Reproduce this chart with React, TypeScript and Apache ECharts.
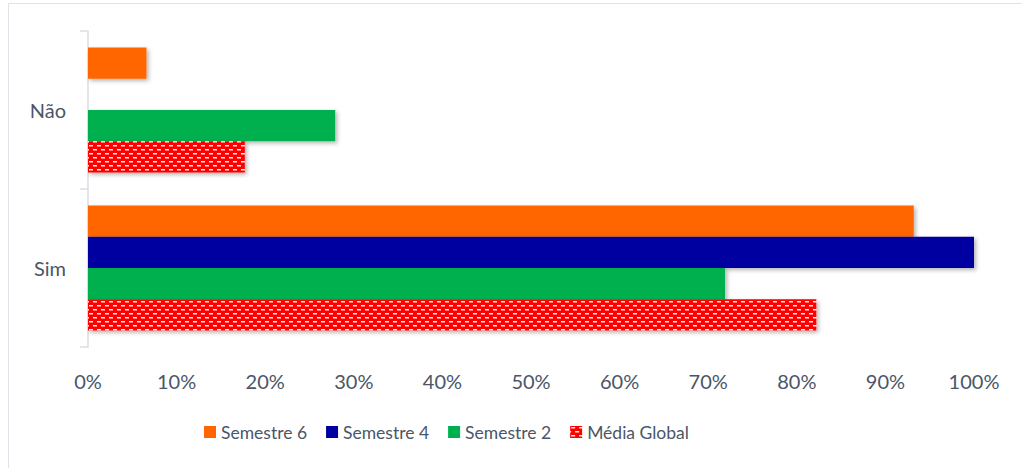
import React, { useEffect, useRef } from "react";
import * as echarts from "echarts";

const categories = ["Sim", "Não"];
const seriesNames = ["Semestre 6", "Semestre 4", "Semestre 2", "Média Global"];
const semestre6 = [93.2, 6.6];
const semestre4 = [100, 0];
const semestre2 = [71.9, 27.9];
const mediaGlobal = [82.2, 17.7];
const xTicks = [0, 10, 20, 30, 40, 50, 60, 70, 80, 90, 100];

function makePattern(): HTMLCanvasElement {
  const c = document.createElement("canvas");
  c.width = 8;
  c.height = 8;
  const ctx = c.getContext("2d")!;
  ctx.fillStyle = "#FF0000";
  ctx.fillRect(0, 0, 8, 8);
  ctx.fillStyle = "rgba(255,255,255,0.92)";
  ctx.fillRect(1, 1, 4, 1.5);
  ctx.fillRect(5, 5, 3, 1.5);
  ctx.fillRect(0, 5, 1, 1.5);
  return c;
}

export default function App() {
  const ref = useRef<HTMLDivElement>(null);
  useEffect(() => {
    if (!ref.current) return;
    const chart = echarts.init(ref.current, undefined, { renderer: "svg" });
    const pattern = makePattern();
    const textColor = "#4a5668";
    const font = "Lato, 'Open Sans', sans-serif";
    const shadow = {
      shadowBlur: 4,
      shadowColor: "rgba(0,0,0,0.3)",
      shadowOffsetX: 2,
      shadowOffsetY: 2,
    };
    const colors: any[] = [
      "#FF6600",
      "#0000A0",
      "#00B050",
      { image: pattern, repeat: "repeat" },
    ];
    const datas = [semestre6, semestre4, semestre2, mediaGlobal];
    chart.setOption({
      animation: false,
      textStyle: { fontFamily: font },
      graphic: [
        {
          type: "rect",
          shape: { x: 8.5, y: 3.5, width: 1200, height: 800 },
          style: { fill: "none", stroke: "#dfe3ea", lineWidth: 1 },
          silent: true,
        },
      ],
      grid: { left: 88, right: 48, top: 31, bottom: 121 },
      legend: {
        left: 199,
        top: 418,
        itemWidth: 12,
        itemHeight: 12,
        itemGap: 19,
        icon: "rect",
        data: seriesNames,
        textStyle: { color: textColor, fontSize: 17.5, fontFamily: font },
      },
      xAxis: {
        type: "value",
        min: 0,
        max: 100,
        interval: 10,
        axisLine: { show: false },
        axisTick: { show: false },
        splitLine: { show: false },
        axisLabel: {
          color: textColor,
          fontSize: 20,
          margin: 24,
          formatter: (v: number) => (xTicks.includes(v) ? v + "%" : ""),
        },
      },
      yAxis: {
        type: "category",
        data: categories,
        axisLine: { show: true, lineStyle: { color: "#d9dde3", width: 1.5 } },
        axisTick: { show: true, length: 8, lineStyle: { color: "#d9dde3", width: 1.5 } },
        axisLabel: { color: textColor, fontSize: 20, margin: 22 },
      },
      series: seriesNames.map((name, i) => ({
        name,
        type: "bar",
        data: datas[i],
        barGap: "0%",
        barCategoryGap: "21%",
        itemStyle: { color: colors[i], ...shadow },
      })),
    });
    return () => chart.dispose();
  }, []);
  return (
    <div
      ref={ref}
      style={{ position: "fixed", left: 0, top: 0, width: 1022, height: 468, background: "#fff" }}
    />
  );
}
